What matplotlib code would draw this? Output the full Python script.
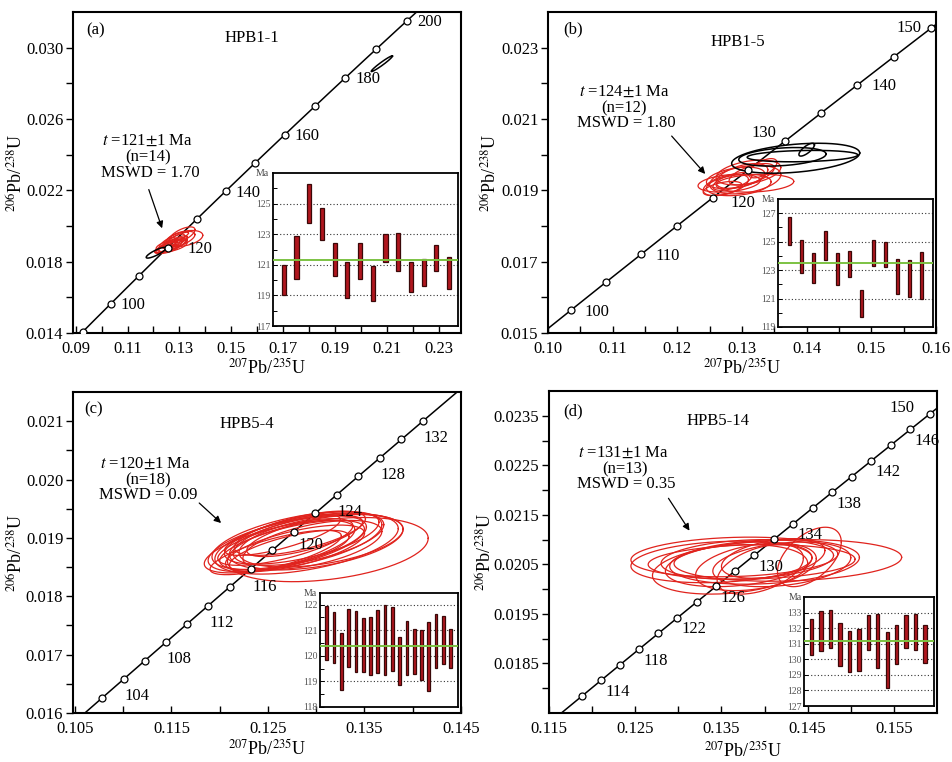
import numpy as np
import matplotlib
matplotlib.use("Agg")
import matplotlib.pyplot as plt
from matplotlib.ticker import FixedLocator, FixedFormatter

plt.rcParams['font.family'] = ['Liberation Serif', 'DejaVu Serif']
plt.rcParams['mathtext.fontset'] = 'stix'

# decay constants (per Ma)
L238 = 1.55125e-4
L235 = 9.8485e-4

# ---------------- Panel (a) HPB1-1 ----------------
a_marker_ages = [90, 100, 110, 120, 130, 140, 150, 160, 170, 180, 190, 200]
a_label_ages = [100, 120, 140, 160, 180, 200]
a_xticks = [0.09, 0.11, 0.13, 0.15, 0.17, 0.19, 0.21, 0.23]
a_xticklabels = ['0.09', '0.11', '0.13', '0.15', '0.17', '0.19', '0.21', '0.23']
a_xminor = [0.10, 0.12, 0.14, 0.16, 0.18, 0.20, 0.22]
a_yticks = [0.014, 0.018, 0.022, 0.026, 0.030]
a_yticklabels = ['0.014', '0.018', '0.022', '0.026', '0.030']
a_yminor = [0.016, 0.020, 0.024, 0.028]
a_red_x = [0.1245, 0.1260, 0.1275, 0.1285, 0.1300, 0.1320, 0.1310, 0.1265, 0.1250, 0.1290, 0.1280, 0.1270, 0.1295, 0.1255]
a_red_y = [0.01880, 0.01885, 0.01895, 0.01910, 0.01925, 0.01930, 0.01950, 0.01900, 0.01870, 0.01900, 0.01915, 0.01890, 0.01935, 0.01895]
a_red_sx = [0.0040, 0.0050, 0.0055, 0.0045, 0.0060, 0.0070, 0.0050, 0.0030, 0.0045, 0.0035, 0.0040, 0.0060, 0.0040, 0.0035]
a_red_sy = [0.00030, 0.00035, 0.00040, 0.00035, 0.00045, 0.00045, 0.00045, 0.00025, 0.00025, 0.00030, 0.00040, 0.00035, 0.00030, 0.00040]
a_red_rho = [0.85, 0.75, 0.70, 0.80, 0.60, 0.40, 0.65, 0.80, 0.60, 0.70, 0.75, 0.50, 0.85, 0.60]
a_blk_x = [0.2080, 0.1210]
a_blk_y = [0.02910, 0.01850]
a_blk_sx = [0.0041, 0.0038]
a_blk_sy = [0.00044, 0.00030]
a_blk_rho = [0.97, 0.85]
a_age_low = [119.0, 120.1, 123.7, 122.6, 120.3, 118.8, 120.1, 118.65, 121.2, 120.6, 119.2, 119.6, 120.6, 119.4]
a_age_high = [121.0, 122.9, 126.3, 124.7, 122.4, 121.2, 122.4, 120.9, 123.0, 123.1, 121.2, 121.4, 122.3, 121.5]
a_mean = 121.3
a_inset_yticks = [117, 119, 121, 123, 125]
a_inset_grid = [119, 121, 123, 125]
a_inset_minor = [118, 120, 122, 124, 126]

# ---------------- Panel (b) HPB1-5 ----------------
b_marker_ages = [100, 105, 110, 115, 120, 125, 130, 135, 140, 145, 150]
b_label_ages = [100, 110, 120, 130, 140, 150]
b_xticks = [0.10, 0.11, 0.12, 0.13, 0.14, 0.15, 0.16]
b_xticklabels = ['0.10', '0.11', '0.12', '0.13', '0.14', '0.15', '0.16']
b_xminor = [0.105, 0.115, 0.125, 0.135, 0.145, 0.155]
b_yticks = [0.015, 0.017, 0.019, 0.021, 0.023]
b_yticklabels = ['0.015', '0.017', '0.019', '0.021', '0.023']
b_yminor = [0.016, 0.018, 0.020, 0.022]
b_red_x = [0.1280, 0.1320, 0.1290, 0.1300, 0.1275, 0.1310, 0.1332, 0.1295, 0.1285, 0.1305, 0.1270, 0.1315]
b_red_y = [0.01920, 0.01920, 0.01935, 0.01940, 0.01915, 0.01950, 0.01962, 0.01915, 0.01925, 0.01930, 0.01905, 0.01945]
b_red_sx = [0.0048, 0.0060, 0.0045, 0.0040, 0.0035, 0.0050, 0.0022, 0.0050, 0.0030, 0.0055, 0.0030, 0.0035]
b_red_sy = [0.00025, 0.00025, 0.00030, 0.00035, 0.00030, 0.00035, 0.00027, 0.00030, 0.00025, 0.00040, 0.00020, 0.00030]
b_red_rho = [0.30, 0.20, 0.40, 0.50, 0.50, 0.40, 0.60, 0.30, 0.60, 0.35, 0.50, 0.60]
b_blk_x = [0.1383, 0.13625, 0.13935, 0.1400]
b_blk_y = [0.01990, 0.01994, 0.01996, 0.02014]
b_blk_sx = [0.0099, 0.00675, 0.00855, 0.0012]
b_blk_sy = [0.00042, 0.00026, 0.00016, 0.00018]
b_blk_rho = [0.35, 0.30, 0.20, 0.75]
b_age_low = [124.8, 122.8, 122.1, 123.7, 121.95, 122.5, 119.7, 123.3, 123.2, 121.3, 121.1, 121.0]
b_age_high = [126.75, 125.1, 124.2, 125.75, 124.2, 124.35, 121.6, 125.15, 125.0, 123.8, 123.7, 124.25]
b_mean = 123.5
b_inset_yticks = [119, 121, 123, 125, 127]
b_inset_grid = [121, 123, 125, 127]
b_inset_minor = [120, 122, 124, 126]

# ---------------- Panel (c) HPB5-4 ----------------
c_marker_ages = [104, 106, 108, 110, 112, 114, 116, 118, 120, 122, 124, 126, 128, 130, 132, 134]
c_label_ages = [104, 108, 112, 116, 120, 124, 128, 132]
c_xticks = [0.105, 0.115, 0.125, 0.135, 0.145]
c_xticklabels = ['0.105', '0.115', '0.125', '0.135', '0.145']
c_xminor = [0.110, 0.120, 0.130, 0.140]
c_yticks = [0.016, 0.017, 0.018, 0.019, 0.020, 0.021]
c_yticklabels = ['0.016', '0.017', '0.018', '0.019', '0.020', '0.021']
c_yminor = [0.0165, 0.0175, 0.0185, 0.0195, 0.0205]
c_red_x = [0.1262, 0.1270, 0.1280, 0.1275, 0.1290, 0.1268, 0.1285, 0.1312, 0.1300, 0.1265, 0.1278, 0.1292, 0.1258, 0.1283, 0.1305, 0.1272, 0.1296, 0.1288]
c_red_y = [0.01885, 0.01890, 0.01895, 0.01888, 0.01890, 0.01893, 0.01900, 0.01880, 0.01893, 0.01905, 0.01882, 0.01898, 0.01875, 0.01908, 0.01895, 0.01878, 0.01888, 0.01903]
c_red_sx = [0.0078, 0.0082, 0.0088, 0.0075, 0.0095, 0.0070, 0.0080, 0.0104, 0.0090, 0.0060, 0.0072, 0.0078, 0.0068, 0.0068, 0.0085, 0.0062, 0.0072, 0.0060]
c_red_sy = [0.00045, 0.00048, 0.00050, 0.00042, 0.00052, 0.00040, 0.00045, 0.00055, 0.00048, 0.00035, 0.00040, 0.00045, 0.00038, 0.00038, 0.00045, 0.00035, 0.00042, 0.00035]
c_red_rho = [0.65, 0.60, 0.55, 0.65, 0.50, 0.70, 0.60, 0.35, 0.45, 0.75, 0.65, 0.55, 0.75, 0.65, 0.45, 0.70, 0.55, 0.70]
c_age_low = [119.83, 119.72, 118.67, 119.55, 119.35, 119.38, 119.23, 119.33, 119.23, 119.42, 118.84, 119.25, 119.29, 119.06, 118.64, 119.52, 119.66, 119.51]
c_age_high = [121.94, 121.70, 120.90, 121.81, 121.73, 121.47, 121.51, 121.77, 121.97, 121.89, 120.75, 121.36, 121.03, 120.99, 121.33, 121.62, 121.55, 121.03]
c_mean = 120.37
c_inset_yticks = [118, 119, 120, 121, 122]
c_inset_grid = [119, 120, 121, 122]
c_inset_minor = [118.5, 119.5, 120.5, 121.5]

# ---------------- Panel (d) HPB5-14 ----------------
d_marker_ages = [114, 116, 118, 120, 122, 124, 126, 128, 130, 132, 134, 136, 138, 140, 142, 144, 146, 148, 150]
d_label_ages = [114, 118, 122, 126, 130, 134, 138, 142, 146, 150]
d_xticks = [0.115, 0.125, 0.135, 0.145, 0.155]
d_xticklabels = ['0.115', '0.125', '0.135', '0.145', '0.155']
d_xminor = [0.120, 0.130, 0.140, 0.150]
d_yticks = [0.0185, 0.0195, 0.0205, 0.0215, 0.0225, 0.0235]
d_yticklabels = ['0.0185', '0.0195', '0.0205', '0.0215', '0.0225', '0.0235']
d_yminor = [0.0180, 0.0190, 0.0200, 0.0210, 0.0220, 0.0230]
d_red_x = [0.1365, 0.1427, 0.1400, 0.1380, 0.1370, 0.1452, 0.1390, 0.1360, 0.1410, 0.1395, 0.1385, 0.1350, 0.1420]
d_red_y = [0.02065, 0.02058, 0.02055, 0.02060, 0.02050, 0.02065, 0.02045, 0.02040, 0.02062, 0.02040, 0.02055, 0.02055, 0.02050]
d_red_sx = [0.0120, 0.0132, 0.0110, 0.0100, 0.0085, 0.0037, 0.0070, 0.0090, 0.0060, 0.0050, 0.0120, 0.0105, 0.0080]
d_red_sy = [0.00040, 0.00042, 0.00045, 0.00040, 0.00045, 0.00060, 0.00048, 0.00050, 0.00040, 0.00050, 0.00035, 0.00042, 0.00045]
d_red_rho = [0.15, 0.15, 0.20, 0.20, 0.30, 0.50, 0.35, 0.25, 0.40, 0.45, 0.15, 0.20, 0.30]
d_age_low = [130.27, 130.53, 130.70, 129.57, 129.16, 129.27, 130.59, 129.44, 128.13, 129.67, 130.70, 130.59, 129.74]
d_age_high = [132.58, 133.10, 133.16, 132.31, 131.84, 131.94, 132.82, 132.93, 131.77, 132.20, 132.84, 132.88, 132.22]
d_mean = 131.2
d_inset_yticks = [127, 128, 129, 130, 131, 132, 133]
d_inset_grid = [128, 129, 130, 131, 132, 133]
d_inset_minor = []

# ---------------- Text ----------------
titles = ['HPB1-1', 'HPB1-5', 'HPB5-4', 'HPB5-14']
letters = ['(a)', '(b)', '(c)', '(d)']
age_texts = [r'$t$ =121$\pm$1 Ma', r'$t$ =124$\pm$1 Ma', r'$t$ =120$\pm$1 Ma', r'$t$ =131$\pm$1 Ma']
n_texts = ['(n=14)', '(n=12)', '(n=18)', '(n=13)']
mswd_texts = ['MSWD = 1.70', 'MSWD = 1.80', 'MSWD = 0.09', 'MSWD = 0.35']

RED = '#e0231d'
BAR = '#b0161e'
BAREDGE = '#3a0808'
GREEN = '#7cc242'

panels = [
    dict(rect=[73/952, 1-333/762, 388/952, 321/762], xlim=(0.089, 0.2385), ylim=(0.014, 0.032),
         ages=a_marker_ages, lab=a_label_ages, xt=a_xticks, xtl=a_xticklabels, xm=a_xminor,
         yt=a_yticks, ytl=a_yticklabels, ym=a_yminor,
         red=(a_red_x, a_red_y, a_red_sx, a_red_sy, a_red_rho),
         blk=(a_blk_x, a_blk_y, a_blk_sx, a_blk_sy, a_blk_rho),
         lab_off=(16, -1), lab_special={120: (23, -1)},
         letter=(0.059, 0.944), title=(0.461, 0.919),
         txt=[(0.193, 0.598), (0.193, 0.548), (0.198, 0.498)],
         arrow=((0.193, 0.455), (0.232, 0.318)), ylab=-0.12, xlab=-0.078,
         inset=[273/952, 1-326/762, 185/952, 153/762], ilow=a_age_low, ihigh=a_age_high,
         imean=a_mean, iylim=(117, 127), iyt=a_inset_yticks, igrid=a_inset_grid,
         imin=a_inset_minor, ixlim=(0.15, 14.7), iw=0.33),
    dict(rect=[548/952, 1-333/762, 388/952, 321/762], xlim=(0.10, 0.16), ylim=(0.015, 0.024),
         ages=b_marker_ages, lab=b_label_ages, xt=b_xticks, xtl=b_xticklabels, xm=b_xminor,
         yt=b_yticks, ytl=b_yticklabels, ym=b_yminor,
         red=(b_red_x, b_red_y, b_red_sx, b_red_sy, b_red_rho),
         blk=(b_blk_x, b_blk_y, b_blk_sx, b_blk_sy, b_blk_rho),
         lab_off=(19, -1), lab_special={120: (22, -4), 130: (-15, 6), 150: (-16, 0)},
         letter=(0.064, 0.947), title=(0.490, 0.907),
         txt=[(0.196, 0.751), (0.196, 0.701), (0.201, 0.654)],
         arrow=((0.314, 0.620), (0.410, 0.489)), ylab=-0.122, xlab=-0.078,
         inset=[778/952, 1-327/762, 155/952, 128/762], ilow=b_age_low, ihigh=b_age_high,
         imean=b_mean, iylim=(119, 128), iyt=b_inset_yticks, igrid=b_inset_grid,
         imin=b_inset_minor, ixlim=(0.02, 12.95), iw=0.28),
    dict(rect=[73/952, 1-713/762, 388/952, 321/762], xlim=(0.1048, 0.145), ylim=(0.016, 0.0215),
         ages=c_marker_ages, lab=c_label_ages, xt=c_xticks, xtl=c_xticklabels, xm=c_xminor,
         yt=c_yticks, ytl=c_yticklabels, ym=c_yminor,
         red=(c_red_x, c_red_y, c_red_sx, c_red_sy, c_red_rho),
         blk=None,
         lab_off=(25, 1), lab_special={120: (28, 4), 116: (25, 0)},
         letter=(0.052, 0.947), title=(0.448, 0.900),
         txt=[(0.188, 0.776), (0.193, 0.726), (0.193, 0.679)],
         arrow=((0.320, 0.660), (0.387, 0.586)), ylab=-0.12, xlab=-0.08,
         inset=[320/952, 1-707/762, 138/952, 114/762], ilow=c_age_low, ihigh=c_age_high,
         imean=c_mean, iylim=(118, 122.45), iyt=c_inset_yticks, igrid=c_inset_grid,
         imin=c_inset_minor, ixlim=(0.08, 19.0), iw=0.37),
    dict(rect=[549/952, 1-713/762, 388/952, 322/762], xlim=(0.115, 0.160), ylim=(0.0175, 0.0240),
         ages=d_marker_ages, lab=d_label_ages, xt=d_xticks, xtl=d_xticklabels, xm=d_xminor,
         yt=d_yticks, ytl=d_yticklabels, ym=d_yminor,
         red=(d_red_x, d_red_y, d_red_sx, d_red_sy, d_red_rho),
         blk=None,
         lab_off=(26, 3), lab_special={150: (-20, 4)},
         letter=(0.062, 0.938), title=(0.436, 0.907),
         txt=[(0.193, 0.807), (0.196, 0.758), (0.198, 0.711)],
         arrow=((0.304, 0.674), (0.366, 0.559)), ylab=-0.137, xlab=-0.085,
         inset=[804/952, 1-706/762, 130/952, 109/762], ilow=d_age_low, ihigh=d_age_high,
         imean=d_mean, iylim=(127, 134), iyt=d_inset_yticks, igrid=d_inset_grid,
         imin=d_inset_minor, ixlim=(0.19, 13.95), iw=0.35),
]


def concordia(t):
    t = np.asarray(t, dtype=float)
    return np.exp(L235 * t) - 1, np.exp(L238 * t) - 1


def ellipse(ax, cx, cy, sx, sy, rho, color, lw):
    th = np.linspace(0, 2 * np.pi, 240)
    x = cx + sx * np.cos(th)
    y = cy + sy * (rho * np.cos(th) + np.sqrt(1 - rho ** 2) * np.sin(th))
    ax.plot(x, y, color=color, lw=lw, zorder=3)


fig = plt.figure(figsize=(9.52, 7.62), dpi=100)

for i, p in enumerate(panels):
    ax = fig.add_axes(p['rect'])
    ax.set_xlim(*p['xlim'])
    ax.set_ylim(*p['ylim'])
    # concordia curve
    tt = np.linspace(50, 260, 800)
    cx, cy = concordia(tt)
    ax.plot(cx, cy, color='k', lw=1.1, zorder=2)
    # ellipses
    for (ex, ey, esx, esy, er) in zip(*p['red']):
        ellipse(ax, ex, ey, esx, esy, er, RED, 0.9)
    if p['blk'] is not None:
        for (ex, ey, esx, esy, er) in zip(*p['blk']):
            ellipse(ax, ex, ey, esx, esy, er, 'k', 1.1)
    # age markers
    mx, my = concordia(p['ages'])
    ax.plot(mx, my, 'o', ms=5, mfc='white', mec='k', mew=0.9, zorder=5, ls='none')
    lx, ly = concordia(p['lab'])
    for age, x, y in zip(p['lab'], lx, ly):
        off = p['lab_special'].get(age, p['lab_off'])
        ax.annotate(str(age), (x, y), xytext=off, textcoords='offset points',
                    ha='center', va='center', fontsize=12, zorder=6)
    # ticks
    ax.xaxis.set_major_locator(FixedLocator(p['xt']))
    ax.xaxis.set_major_formatter(FixedFormatter(p['xtl']))
    ax.xaxis.set_minor_locator(FixedLocator(p['xm']))
    ax.yaxis.set_major_locator(FixedLocator(p['yt']))
    ax.yaxis.set_major_formatter(FixedFormatter(p['ytl']))
    ax.yaxis.set_minor_locator(FixedLocator(p['ym']))
    ax.tick_params(axis='x', which='both', direction='in', length=5, width=1, labelsize=12, pad=6)
    ax.tick_params(axis='y', which='both', direction='out', length=5, width=1, labelsize=12, pad=2)
    for s in ax.spines.values():
        s.set_linewidth(1.5)
    ax.set_xlabel(r'$^{207}$Pb/$^{235}$U', fontsize=13)
    ax.set_ylabel(r'$^{206}$Pb/$^{238}$U', fontsize=13)
    ax.xaxis.set_label_coords(0.5, p['xlab'])
    ax.yaxis.set_label_coords(p['ylab'], 0.5)
    # texts
    ax.text(*p['letter'], letters[i], transform=ax.transAxes, fontsize=12, ha='center', va='center')
    ax.text(*p['title'], titles[i], transform=ax.transAxes, fontsize=12, ha='center', va='center')
    for (tx, ty), s in zip(p['txt'], [age_texts[i], n_texts[i], mswd_texts[i]]):
        ax.text(tx, ty, s, transform=ax.transAxes, fontsize=12, ha='center', va='center')
    ax.annotate('', xy=p['arrow'][1], xytext=p['arrow'][0], xycoords='axes fraction',
                textcoords='axes fraction',
                arrowprops=dict(arrowstyle='-|>', color='k', lw=0.9, mutation_scale=10))

    # inset weighted mean plot
    ia = fig.add_axes(p['inset'])
    ia.set_facecolor('white')
    xs = np.arange(1, len(p['ilow']) + 1)
    low = np.array(p['ilow'])
    high = np.array(p['ihigh'])
    for g in p['igrid']:
        ia.axhline(g, ls=(0, (1, 2)), color='#333333', lw=0.8, zorder=1)
    ia.bar(xs, high - low, bottom=low, width=p['iw'], color=BAR, edgecolor=BAREDGE,
           linewidth=0.9, zorder=2)
    ia.axhline(p['imean'], color=GREEN, lw=1.4, zorder=3)
    ia.set_xlim(*p['ixlim'])
    ia.set_ylim(*p['iylim'])
    ia.set_xticks([])
    ia.yaxis.set_major_locator(FixedLocator(p['iyt']))
    ia.yaxis.set_major_formatter(FixedFormatter([str(v) for v in p['iyt']]))
    ia.yaxis.set_minor_locator(FixedLocator(p['imin']))
    ia.tick_params(axis='y', which='both', direction='in', length=3, width=0.7,
                   labelsize=7, labelcolor='#555555', pad=2)
    for s in ia.spines.values():
        s.set_linewidth(1.3)
    ia.text(-0.02, 1.0, 'Ma', transform=ia.transAxes, ha='right', va='center',
            fontsize=7, color='#444444')

fig.savefig('out.png', dpi=100)
